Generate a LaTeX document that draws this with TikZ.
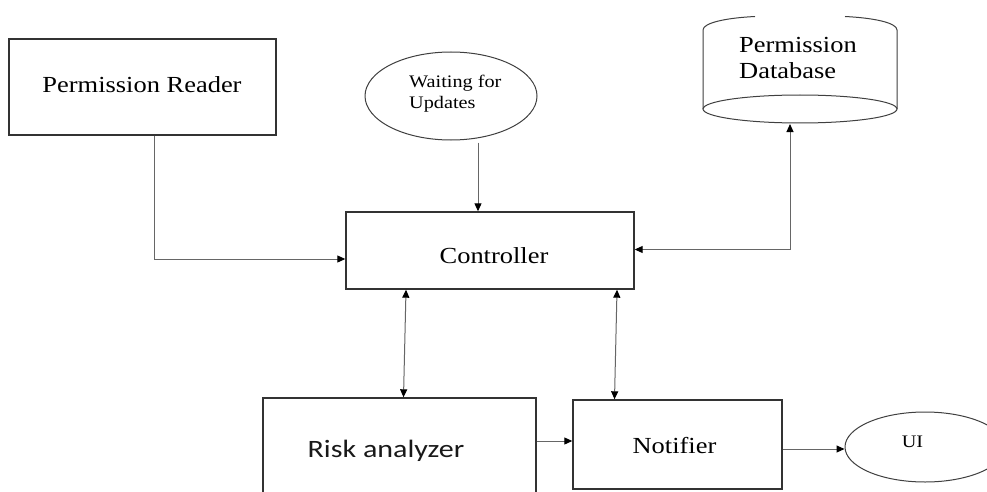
\documentclass[tikz,border=0pt]{standalone}
\usepackage{fontspec}
\setmainfont{Liberation Serif}[FakeStretch=1.15]
\newfontfamily\calib{Carlito}[FakeStretch=1.2]
\usetikzlibrary{shapes.geometric,arrows.meta,calc}
\begin{document}
\begin{tikzpicture}[x=1pt,y=-1pt,
  box/.style={draw=black!80, line width=1.4pt, rectangle, inner sep=0pt},
  oval/.style={draw=black!75, line width=1pt, ellipse, inner sep=0pt},
  cyl/.style={draw=black!75, line width=1pt},
  txt/.style={inner sep=0pt, text=black, font=\fontsize{23}{26}\selectfont},
  small/.style={inner sep=0pt, text=black, font=\fontsize{17.6}{21}\selectfont},
  conn/.style={draw=black!60, line width=1pt, -{Triangle[length=8pt,width=7pt,color=black]}},
  dconn/.style={draw=black!60, line width=1pt, {Triangle[length=8pt,width=7pt,color=black]}-{Triangle[length=8pt,width=7pt,color=black]}}
]
\useasboundingbox (0,0) rectangle (987,492);
\fill[white] (0,0) rectangle (987,492);
\clip (0,0) rectangle (987,492);

% boxes
\node[box, minimum width=267pt, minimum height=96pt] (reader) at (142.5,87) {};
\node[box, minimum width=288pt, minimum height=77pt] (ctrl) at (490,250.5) {};
\node[box, minimum width=273pt, minimum height=112pt] (risk) at (399.5,454) {};
\node[box, minimum width=209pt, minimum height=89pt] (notif) at (677.5,444.5) {};
\node[oval, minimum width=172pt, minimum height=88pt] (wait) at (451,96) {};
\node[oval, minimum width=160pt, minimum height=70pt] (ui) at (925,447) {};

% database cylinder
\draw[cyl] (800,109) ellipse [x radius=97, y radius=14];
\draw[cyl] (755,16.5) .. controls (725,18) and (703,23) .. (703,30) -- (703,109);
\draw[cyl] (845,16.5) .. controls (875,18) and (897,23) .. (897,30) -- (897,109);
\coordinate (dbbot) at (790,124);

% texts
\node[txt, anchor=base] (readertxt) at (142,93) {Permission Reader};
\node[txt, anchor=base] (ctrltxt) at (494,263) {Controller};
\node[txt, anchor=base] (notiftxt) at (674.5,453) {Notifier};
\node[inner sep=0pt, text=black!90, font=\calib\fontsize{25}{28}\selectfont, anchor=base] (risktxt) at (386,457) {Risk analyzer};
\node[txt, anchor=north west, align=left] (db) at (739,37.3) {Permission\\Database};
\node[small, anchor=north west, align=left] (waittxt) at (409,75) {Waiting for\\Updates};
\node[small, anchor=base] (uitxt) at (912.5,447) {UI};

% connectors
\draw[conn] ($(reader.south)+(11.5,0)$) |- ($(ctrl.west)+(0,8.5)$);
\draw[conn] ($(wait.south)+(27,2)$) -- ($(ctrl.north)+(-12,0)$);
\draw[dconn] ($(ctrl.east)+(0,-1)$) -| (dbbot);
\draw[dconn] ($(ctrl.south)+(-84,0)$) -- ($(risk.north)+(4,0)$);
\draw[dconn] ($(ctrl.south)+(127,0)$) -- ($(notif.north)+(-63,0)$);
\draw[conn] ($(risk.east)+(0,-13)$) -- ($(notif.west)+(0,-3.5)$);
\draw[conn] ($(notif.east)+(0,4.5)$) -- ($(ui.west)+(0,2)$);
\end{tikzpicture}
\end{document}
